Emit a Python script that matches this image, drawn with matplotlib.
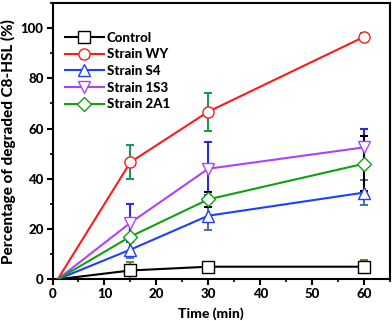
import matplotlib
matplotlib.use("Agg")
import matplotlib.pyplot as plt
from matplotlib.ticker import MultipleLocator

time = [1, 15, 30, 60]
series_names = ["Control", "Strain WY", "Strain S4", "Strain 1S3", "Strain 2A1"]
control = [0, 3.5, 5.0, 5.0]
control_err = [0, 3.5, 1.5, 2.5]
wy = [0, 46.6, 66.7, 96.5]
wy_err = [0, 6.8, 7.6, 1.5]
s4 = [0, 11.8, 25.3, 34.5]
s4_err = [0, 3.5, 5.5, 5.0]
s13 = [0, 22.5, 44.0, 52.5]
s13_err = [0, 7.5, 10.5, 7.5]
a21 = [0, 17.0, 31.8, 46.0]
a21_err = [0, 7.0, 3.0, 11.0]

W = 'black'
plt.rcParams['font.family'] = ['Lato', 'DejaVu Sans']
plt.rcParams['font.weight'] = W

fig = plt.figure(figsize=(3.92, 3.21), dpi=100)
ax = fig.add_axes([0.134, 0.130, 0.861, 0.861])

styles = [
    (control, control_err, 'black', 's', '#6a8a2a'),
    (wy, wy_err, '#ff1a1a', 'o', '#1a9a50'),
    (s4, s4_err, '#1f3fff', '^', '#5a7090'),
    (s13, s13_err, '#b040ff', 'v', '#2a2ae0'),
    (a21, a21_err, '#10a010', 'D', 'black'),
]

for name, (vals, errs, col, mk, ecol) in zip(series_names, styles):
    ax.errorbar(time[1:], vals[1:], yerr=errs[1:], fmt='none', ecolor=ecol,
                elinewidth=1.5, capsize=3, capthick=1.5, zorder=2)
    ax.plot(time, vals, color=col, lw=1.5, zorder=3)
    ax.plot(time[1:], vals[1:], color=col, lw=0, marker=mk, mfc='white',
            mec=col, mew=1.0, ms=8 if mk != 'D' else 7, zorder=4)
    ax.plot([], [], color=col, lw=1.5, marker=mk, mfc='white', mec=col,
            mew=1.0, ms=8 if mk != 'D' else 7, label=name)

ax.set_xlim(0, 65)
ax.set_ylim(0, 110)
ax.xaxis.set_major_locator(MultipleLocator(10))
ax.xaxis.set_minor_locator(MultipleLocator(5))
ax.yaxis.set_major_locator(MultipleLocator(20))
ax.yaxis.set_minor_locator(MultipleLocator(10))
ax.set_yticks([0, 20, 40, 60, 80, 100])
ax.tick_params(which='major', direction='out', length=4, width=1.5, labelsize=9.5, pad=2.5)
ax.tick_params(which='minor', direction='out', length=2.5, width=1.2)
ax.tick_params(top=False, right=False, which='both')
for sp in ax.spines.values():
    sp.set_linewidth(1.5)
for lab in ax.get_xticklabels() + ax.get_yticklabels():
    lab.set_fontweight(W)

ax.set_xlabel("Time (min)", fontsize=10, fontweight=W)
ax.xaxis.set_label_coords(0.47, -0.10)
ax.set_ylabel("Percentage of degraded C8-HSL (%)", fontsize=11, fontweight=W, labelpad=3)

leg = ax.legend(loc='upper left', bbox_to_anchor=(0.02, 0.915), frameon=False,
                fontsize=9.5, handlelength=3.0, handletextpad=0.2, labelspacing=0.35,
                borderaxespad=0)
for t in leg.get_texts():
    t.set_fontweight(W)

fig.savefig("out.png", dpi=100)
